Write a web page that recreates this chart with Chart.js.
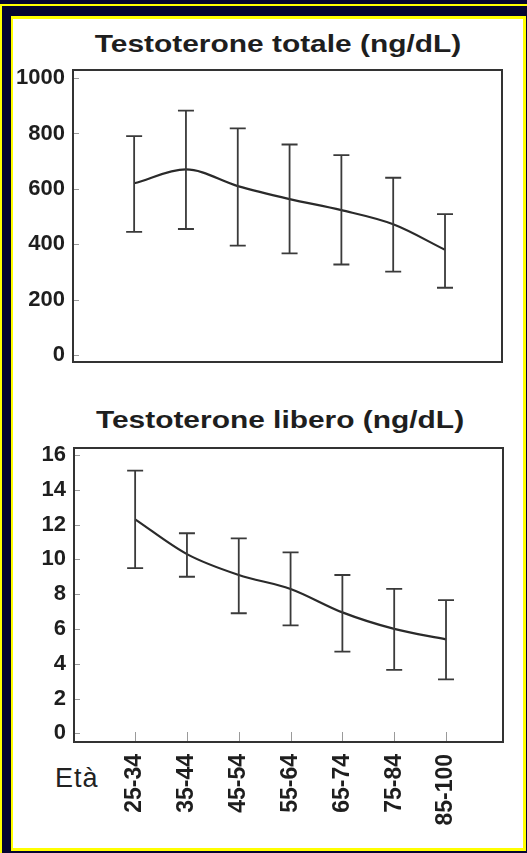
<!DOCTYPE html>
<html>
<head>
<meta charset="utf-8">
<script src="https://cdn.jsdelivr.net/npm/chart.js@4.4.1/dist/chart.umd.min.js"></script>
<style>
  html, body { margin: 0; padding: 0; }
  body {
    width: 527px; height: 853px; overflow: hidden; position: relative;
    background: #050530;
    font-family: "Liberation Sans", Arial, sans-serif;
  }
  .edge-top { position: absolute; left: 0; top: 4px; width: 527px; height: 2px; background: #ffff00; }
  .edge-left { position: absolute; left: 0; top: 4px; width: 2px; height: 849px; background: #ffff00; }
  .panel {
    position: absolute; left: 11px; top: 16px; width: 510px; height: 829px;
    background: #fff; border: 3px solid #ffff00; border-left-width: 2px;
  }
  .title {
    position: absolute; width: 560px; text-align: center; line-height: 26px;
    font-weight: bold; font-size: 23px; color: #1e1e1e;
    transform: scaleX(1.3);
  }
  .eta { position: absolute; left: 55px; top: 763px; font-size: 27px; color: #222; letter-spacing: 1px; }
  canvas { position: absolute; left: 0; }
</style>
</head>
<body>
<div class="edge-top"></div>
<div class="edge-left"></div>
<div class="panel"></div>
<div class="title" style="top:31px;left:-2px">Testoterone totale (ng/dL)</div>
<div class="title" style="top:407px;left:0px">Testoterone libero (ng/dL)</div>
<div class="eta">Età</div>
<div style="position:absolute;left:0;top:60px;width:527px;height:310px"><canvas id="totalChart"></canvas></div>
<div style="position:absolute;left:0;top:430px;width:527px;height:423px"><canvas id="freeChart"></canvas></div>

<script>
// Age groups (x axis)
const ageGroups = ['25-34', '35-44', '45-54', '55-64', '65-74', '75-84', '85-100'];

// Total testosterone, ng/dL: mean and error bar ends
const totalMean  = [620, 670, 610, 563, 523, 472, 380];
const totalUpper = [790, 882, 818, 760, 722, 640, 509];
const totalLower = [445, 455, 395, 367, 327, 301, 243];
const totalTicks = [0, 200, 400, 600, 800, 1000];

// Free testosterone, ng/dL
const freeMean  = [12.3, 10.3, 9.1, 8.3, 6.95, 6.0, 5.4];
const freeUpper = [15.1, 11.5, 11.2, 10.4, 9.1, 8.3, 7.65];
const freeLower = [9.5, 9.0, 6.9, 6.2, 4.7, 3.65, 3.1];
const freeTicks = [0, 2, 4, 6, 8, 10, 12, 14, 16];

const INK = '#2a2a2a';
const FONT = 'Liberation Sans, Arial, sans-serif';

// box frame, small inner ticks and error bars
const framePlugin = {
    id: 'frame',
    afterDatasetsDraw(chart, args, opts) {
        const { ctx, chartArea: a, scales } = chart;
        const x = scales.x, y = scales.y;
        ctx.save();

        // inner tick marks
        ctx.strokeStyle = '#9a9a9a';
        ctx.lineWidth = 1;
        opts.yTicks.forEach(v => {
            const py = Math.round(y.getPixelForValue(v)) + 0.5;
            ctx.beginPath();
            ctx.moveTo(a.left, py);
            ctx.lineTo(a.left + 6, py);
            ctx.stroke();
        });
        if (opts.xTicks) {
            ageGroups.forEach((g, i) => {
                const px = Math.round(x.getPixelForValue(i)) + 0.5;
                ctx.beginPath();
                ctx.moveTo(px, a.bottom);
                ctx.lineTo(px, a.bottom - 10);
                ctx.stroke();
            });
        }

        // error bars
        ctx.strokeStyle = '#3a3a3a';
        ctx.lineWidth = 1.8;
        opts.upper.forEach((u, i) => {
            const px = x.getPixelForValue(i);
            const top = y.getPixelForValue(u);
            const bot = y.getPixelForValue(opts.lower[i]);
            ctx.beginPath();
            ctx.moveTo(px, top); ctx.lineTo(px, bot);
            ctx.moveTo(px - 8, top); ctx.lineTo(px + 8, top);
            ctx.moveTo(px - 8, bot); ctx.lineTo(px + 8, bot);
            ctx.stroke();
        });

        // outer box
        ctx.strokeStyle = '#333';
        ctx.lineWidth = 2;
        ctx.strokeRect(a.left, a.top, a.right - a.left, a.bottom - a.top);
        ctx.restore();
    }
};

function makeChart(id, cfg) {
    return new Chart(document.getElementById(id), {
        type: 'line',
        data: {
            datasets: [{
                data: cfg.mean.map((v, i) => ({ x: i, y: v })),
                borderColor: INK,
                borderWidth: 2.2,
                pointRadius: 0,
                cubicInterpolationMode: 'monotone',
                fill: false
            }]
        },
        options: {
            responsive: true,
            maintainAspectRatio: false,
            animation: false,
            layout: { padding: cfg.padding },
            plugins: {
                legend: { display: false },
                tooltip: { enabled: false },
                frame: { upper: cfg.upper, lower: cfg.lower, yTicks: cfg.yTicks, xTicks: cfg.showX }
            },
            scales: {
                x: {
                    type: 'linear',
                    min: -1.18,
                    max: 7.1,
                    display: cfg.showX,
                    grid: { display: false },
                    border: { display: false },
                    afterBuildTicks: s => { s.ticks = ageGroups.map((g, i) => ({ value: i })); },
                    afterFit: s => {
                        s.height = cfg.xHeight;
                        s.paddingLeft = 0;
                        s.paddingRight = 0;
                    },
                    ticks: {
                        minRotation: 90,
                        maxRotation: 90,
                        padding: 4,
                        color: '#1e1e1e',
                        font: { family: FONT, size: 23, weight: 'bold' },
                        callback: v => ageGroups[v]
                    }
                },
                y: {
                    min: cfg.yMin,
                    max: cfg.yMax,
                    grid: { display: false, drawTicks: false },
                    border: { display: false },
                    afterBuildTicks: s => { s.ticks = cfg.yTicks.map(v => ({ value: v })); },
                    afterFit: s => {
                        s.width = cfg.yWidth;
                        s.paddingTop = 0;
                        s.paddingBottom = 0;
                    },
                    ticks: {
                        padding: 8,
                        color: '#1e1e1e',
                        font: { family: FONT, size: 22, weight: 'bold' },
                        callback: v => String(v)
                    }
                }
            }
        },
        plugins: [framePlugin]
    });
}

makeChart('totalChart', {
    mean: totalMean, upper: totalUpper, lower: totalLower, yTicks: totalTicks,
    yMin: -25, yMax: 1029, yWidth: 73, xHeight: 0, showX: false,
    padding: { top: 10, right: 25, bottom: 8, left: 0 }
});

makeChart('freeChart', {
    mean: freeMean, upper: freeUpper, lower: freeLower, yTicks: freeTicks,
    yMin: -0.5, yMax: 16.4, yWidth: 74, xHeight: 111, showX: true,
    padding: { top: 18, right: 24, bottom: 0, left: 0 }
});
</script>
</body>
</html>
